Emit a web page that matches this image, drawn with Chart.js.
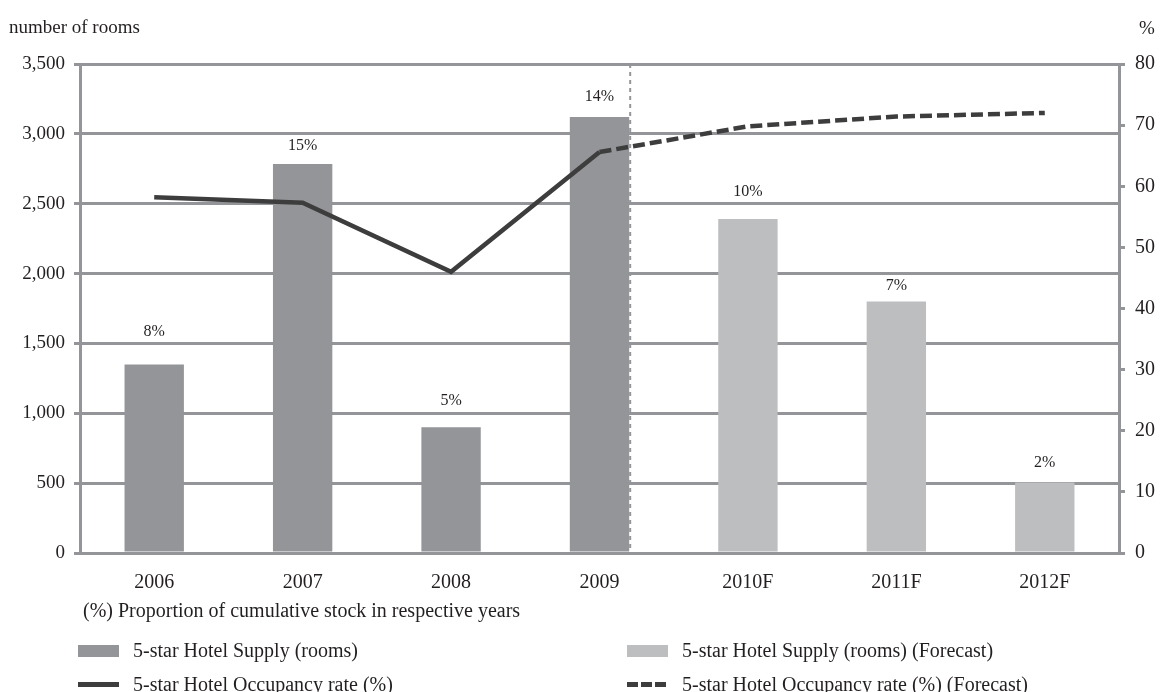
<!DOCTYPE html>
<html>
<head>
<meta charset="utf-8">
<script src="https://cdn.jsdelivr.net/npm/chart.js@4/dist/chart.umd.min.js"></script>
<style>
  body { margin: 0; background: #fff; font-family: "Liberation Serif", serif; color: #231f20; }
  #wrap { position: relative; width: 1163px; height: 692px; }
  #chart { position: absolute; left: 0; top: 0; }
  .txt { position: absolute; font-size: 20px; line-height: 20px; white-space: nowrap; }
  .sw { position: absolute; width: 41px; }
</style>
</head>
<body>
<div id="wrap">
  <canvas id="chart" width="1163" height="692"></canvas>
  <div class="txt" style="left:9px; top:17px; font-size:19px;">number of rooms</div>
  <div class="txt" style="left:1139px; top:18px; font-size:19px;">%</div>
  <div class="txt" style="left:83px; top:600px;">(%) Proportion of cumulative stock in respective years</div>

  <div class="sw" style="left:78px; top:645px; height:12px; background:#939598;"></div>
  <div class="txt" style="left:133px; top:640px;">5-star Hotel Supply (rooms)</div>
  <div class="sw" style="left:627px; top:645px; height:12px; background:#bcbec0;"></div>
  <div class="txt" style="left:682px; top:640px;">5-star Hotel Supply (rooms) (Forecast)</div>

  <div class="sw" style="left:78px; top:682px; height:5px; background:#3d3d3d;"></div>
  <div class="txt" style="left:133px; top:674px;">5-star Hotel Occupancy rate (%)</div>
  <div class="sw" style="left:627px; top:682px; height:5px; background:repeating-linear-gradient(90deg,#3d3d3d 0 11px,#fff 11px 14px);"></div>
  <div class="txt" style="left:682px; top:674px;">5-star Hotel Occupancy rate (%) (Forecast)</div>
</div>
<script>
// Datos del grafico
const years = ['2006', '2007', '2008', '2009', '2010F', '2011F', '2012F'];
const supplyActual = [1350, 2785, 900, 3120, null, null, null];
const supplyForecast = [null, null, null, null, 2390, 1800, 505];
const occupancyActual = [58.2, 57.3, 46.0, 65.6, null, null, null];
const occupancyForecast = [null, null, null, 65.6, 69.8, 71.4, 72.0];
const stockShare = ['8%', '15%', '5%', '14%', '10%', '7%', '2%'];

const gridGray = '#939598';
const serif = 'Liberation Serif';

// Etiquetas de porcentaje encima de las barras y linea vertical discontinua
const extrasPlugin = {
    id: 'extras',
    afterDatasetsDraw(chart) {
        const ctx = chart.ctx;
        const area = chart.chartArea;
        const yScale = chart.scales.y;
        const gridYs = yScale.ticks.map(t => yScale.getPixelForValue(t.value));
        ctx.save();
        ctx.font = '16px "' + serif + '"';
        ctx.fillStyle = '#231f20';
        ctx.textAlign = 'center';
        ctx.textBaseline = 'middle';
        years.forEach((y, i) => {
            const ds = supplyActual[i] !== null ? 2 : 3;
            const bar = chart.getDatasetMeta(ds).data[i];
            let ly = bar.y - 20;
            // evitar que la etiqueta quede encima de una linea de la cuadricula
            const g = gridYs.find(gy => Math.abs(gy - ly) < 11);
            if (g !== undefined) {
                ly = (g + 12 <= bar.y - 12) ? g + 12 : g - 12;
            }
            ctx.fillText(stockShare[i], bar.x, ly);
        });
        // separador entre datos reales y pronostico
        const b = chart.getDatasetMeta(2).data[3];
        const x = b.x + b.width / 2 + 1;
        ctx.strokeStyle = gridGray;
        ctx.lineWidth = 2;
        ctx.setLineDash([4, 4]);
        ctx.beginPath();
        ctx.moveTo(x, area.top);
        ctx.lineTo(x, area.bottom);
        ctx.stroke();
        ctx.restore();
    }
};

new Chart(document.getElementById('chart'), {
    data: {
        labels: years,
        datasets: [
            { type: 'line', data: occupancyActual, yAxisID: 'y1', borderColor: '#3d3d3d', borderWidth: 4.5, pointRadius: 0, order: 0 },
            { type: 'line', data: occupancyForecast, yAxisID: 'y1', borderColor: '#3d3d3d', borderWidth: 4.5, borderDash: [12, 5], pointRadius: 0, order: 0 },
            { type: 'bar', data: supplyActual, yAxisID: 'y', backgroundColor: '#939598', order: 1 },
            { type: 'bar', data: supplyForecast, yAxisID: 'y', backgroundColor: '#bcbec0', order: 1 }
        ]
    },
    options: {
        responsive: false,
        animation: false,
        layout: { padding: { top: 64, left: 0, right: 0, bottom: 97 } },
        datasets: { bar: { grouped: false, categoryPercentage: 1, barPercentage: 0.4 } },
        plugins: { legend: { display: false }, tooltip: { enabled: false } },
        scales: {
            x: {
                grid: { display: false },
                border: { color: gridGray, width: 3 },
                ticks: { color: '#231f20', font: { family: serif, size: 20 }, padding: 10 },
                afterFit: s => { s.height = 42; }
            },
            y: {
                position: 'left',
                min: 0, max: 3500,
                ticks: { stepSize: 500, color: '#231f20', font: { family: serif, size: 19 }, padding: 9,
                    callback: v => v.toLocaleString('en-US') },
                grid: { color: gridGray, lineWidth: 3, tickLength: 6 },
                border: { color: gridGray, width: 3 },
                afterFit: s => { s.width = 80; }
            },
            y1: {
                position: 'right',
                min: 0, max: 80,
                ticks: { stepSize: 10, color: '#231f20', font: { family: serif, size: 20 }, padding: 10 },
                grid: { drawOnChartArea: false, color: gridGray, lineWidth: 3, tickLength: 6 },
                border: { color: gridGray, width: 3 },
                afterFit: s => { s.width = 44; }
            }
        }
    },
    plugins: [extrasPlugin]
});
</script>
</body>
</html>
